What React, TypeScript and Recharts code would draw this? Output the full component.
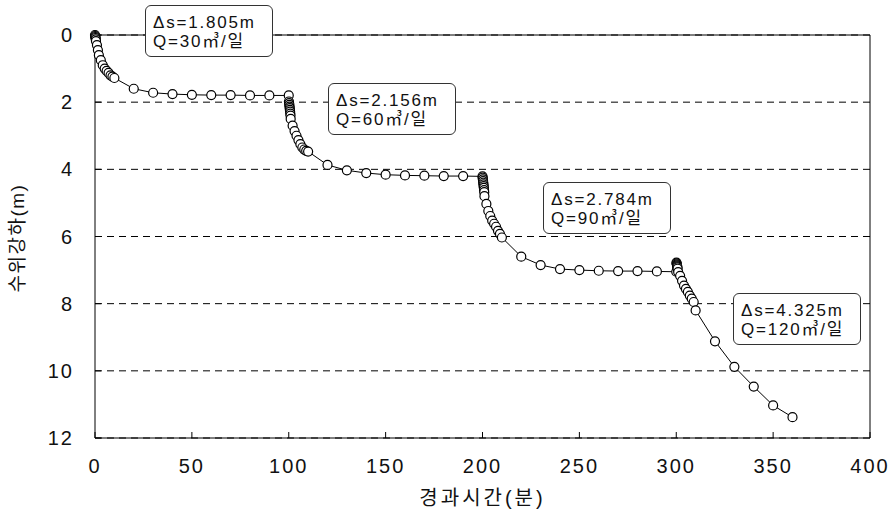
import React from 'react';
import { LineChart, Line, XAxis, YAxis, CartesianGrid, ReferenceLine } from 'recharts';

// step test: elapsed time (min) and drawdown (m) per step
const step1Time = [0, 0.1, 0.2, 0.3, 0.4, 0.5, 1, 1.5, 2, 3, 4, 5, 6, 7, 8, 9, 10, 20, 30, 40, 50, 60, 70, 80, 90, 100];
const step1Drawdown = [0, 0.03, 0.06, 0.09, 0.13, 0.18, 0.3, 0.45, 0.6, 0.75, 0.9, 1.0, 1.07, 1.13, 1.2, 1.24, 1.28, 1.6, 1.72, 1.76, 1.78, 1.79, 1.79, 1.8, 1.8, 1.8];

const step2Time = [100.1, 100.2, 100.3, 100.4, 100.5, 100.6, 100.7, 100.8, 100.9, 101, 102, 103, 104, 105, 106, 107, 108, 109, 110, 120, 130, 140, 150, 160, 170, 180, 190, 200];
const step2Drawdown = [1.98, 2.03, 2.08, 2.13, 2.18, 2.23, 2.28, 2.34, 2.4, 2.5, 2.7, 2.86, 3.0, 3.13, 3.25, 3.35, 3.41, 3.45, 3.47, 3.87, 4.03, 4.11, 4.16, 4.18, 4.19, 4.2, 4.2, 4.21];

const step3Time = [200.1, 200.2, 200.3, 200.4, 200.5, 200.6, 200.7, 200.8, 200.9, 201, 202, 203, 204, 205, 206, 207, 208, 209, 210, 220, 230, 240, 250, 260, 270, 280, 290, 300];
const step3Drawdown = [4.25, 4.3, 4.35, 4.4, 4.45, 4.5, 4.55, 4.62, 4.68, 4.8, 5.03, 5.24, 5.39, 5.53, 5.62, 5.71, 5.83, 5.92, 6.03, 6.6, 6.85, 6.97, 7.0, 7.02, 7.03, 7.03, 7.04, 7.05];

const step4Time = [300.1, 300.2, 300.3, 300.4, 300.5, 300.6, 300.7, 301, 302, 303, 304, 305, 306, 307, 308, 309, 310, 320, 330, 340, 350, 360];
const step4Drawdown = [6.78, 6.8, 6.83, 6.86, 6.89, 6.92, 6.96, 7.06, 7.17, 7.32, 7.46, 7.56, 7.65, 7.76, 7.85, 7.95, 8.2, 9.12, 9.88, 10.47, 11.03, 11.38];

const xTicks = [0, 50, 100, 150, 200, 250, 300, 350, 400];
const yTicks = [0, 2, 4, 6, 8, 10, 12];

const stepDs = ['1.805', '2.156', '2.784', '4.325'];
const stepQ = ['30', '60', '90', '120'];

// where the note boxes sit (px)
const notePos = [
  { left: 145, top: 5 },
  { left: 328, top: 83 },
  { left: 543, top: 182 },
  { left: 733, top: 293 },
];

const toPoints = (t: number[], s: number[]) => t.map((v, i) => ({ t: v, s: s[i] }));
const data = [
  ...toPoints(step1Time, step1Drawdown),
  ...toPoints(step2Time, step2Drawdown),
  ...toPoints(step3Time, step3Drawdown),
  ...toPoints(step4Time, step4Drawdown),
];

const numFont = '"Liberation Sans", Arial, sans-serif';
const krFont = '"Liberation Sans", "Noto Sans CJK KR", sans-serif';

export default function App() {
  return (
    <div style={{ position: 'absolute', left: 0, top: 0, width: 889, height: 517, background: '#fff' }}>
      <LineChart width={889} height={517} data={data} margin={{ top: 35, right: 19, bottom: 39, left: 35 }}>
        <CartesianGrid vertical={false} stroke="#000" strokeDasharray="7 5" />
        <XAxis
          dataKey="t"
          type="number"
          domain={[0, 400]}
          ticks={xTicks}
          height={40}
          stroke="#000"
          tickSize={-6}
          tickMargin={27}
          tick={{ fill: '#111', fontSize: 20, fontFamily: numFont, letterSpacing: 2 }}
          label={({ viewBox }: any) => (
            <text x={viewBox.x + viewBox.width / 2} y={505} textAnchor="middle" fill="#111" fontSize={20} fontFamily={krFont} letterSpacing={3}>
              경과시간(분)
            </text>
          )}
        />
        <YAxis
          type="number"
          reversed
          domain={[0, 12]}
          ticks={yTicks}
          width={60}
          stroke="#000"
          tickSize={-6}
          tickMargin={27}
          tick={{ fill: '#111', fontSize: 20, fontFamily: numFont, letterSpacing: 2 }}
          label={() => (
            <text x={24} y={238} transform="rotate(-90 24 238)" textAnchor="middle" fill="#111" fontSize={19} fontFamily={krFont} letterSpacing={1.5}>
              수위강하(m)
            </text>
          )}
        />
        <ReferenceLine y={0} stroke="#000" />
        <ReferenceLine x={400} stroke="#000" />
        <Line
          dataKey="s"
          type="linear"
          stroke="#000"
          strokeWidth={1}
          dot={{ r: 4.5, fill: '#fff', stroke: '#000', strokeWidth: 1.2 }}
          isAnimationActive={false}
        />
      </LineChart>
      {stepDs.map((ds, i) => (
        <div
          key={ds}
          style={{
            position: 'absolute',
            left: notePos[i].left,
            top: notePos[i].top,
            width: 128,
            height: 52,
            boxSizing: 'border-box',
            border: '1px solid #333',
            borderRadius: 6,
            background: '#fff',
            padding: '7px 0 0 7px',
            fontFamily: krFont,
            fontSize: 17,
            lineHeight: '19px',
            letterSpacing: 1.8,
            color: '#111',
          }}
        >
          <div>Δs={ds}m</div>
          <div>Q={stepQ[i]}㎥/일</div>
        </div>
      ))}
    </div>
  );
}
